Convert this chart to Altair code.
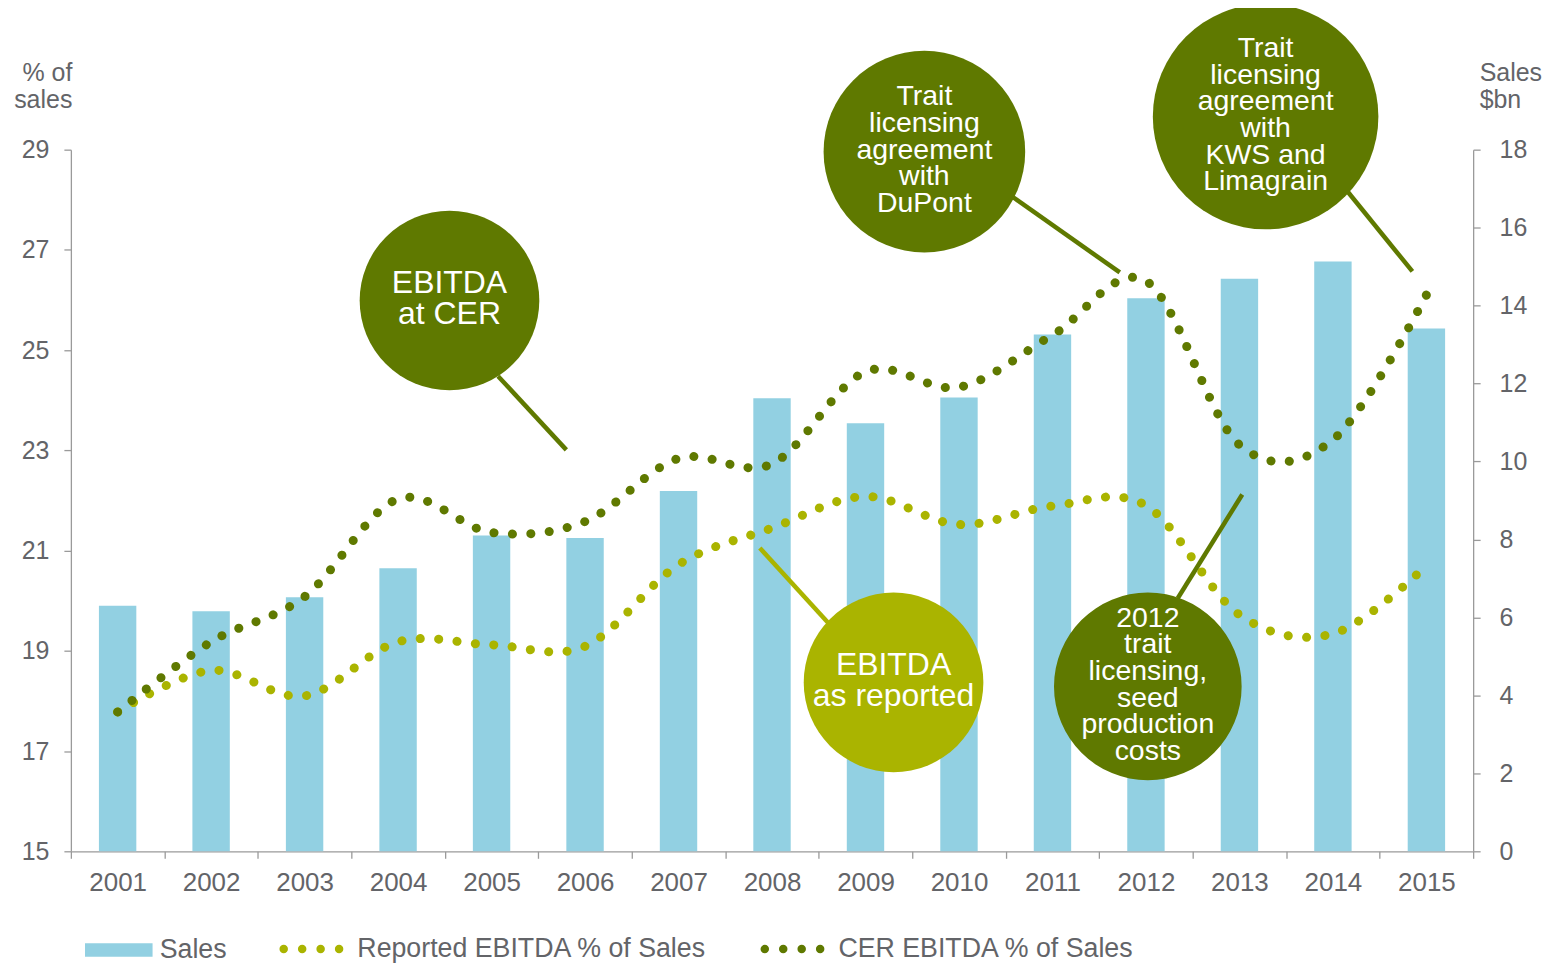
import altair as alt
import pandas as pd

# ---------------- data ----------------
years = list(range(2001, 2016))
sales_bn = [6.30, 6.16, 6.52, 7.26, 8.10, 8.04, 9.24, 11.62, 10.98, 11.64, 13.26, 14.19, 14.69, 15.13, 13.41]
reported_pct = [17.78, 18.61, 18.10, 19.18, 19.12, 19.09, 20.72, 21.45, 22.08, 21.52, 21.89, 21.90, 19.72, 19.34, 20.70]
cer_pct = [17.78, 19.18, 20.08, 22.03, 21.36, 21.58, 22.84, 22.73, 24.57, 24.26, 25.30, 26.38, 23.11, 23.21, 26.10]

left_ticks = [15, 17, 19, 21, 23, 25, 27, 29]
right_ticks = [0, 2, 4, 6, 8, 10, 12, 14, 16, 18]

# annotation bubbles (data coordinates: fractional year, % of sales)
ann_text = ["EBITDA\nat CER",
            "Trait\nlicensing\nagreement\nwith\nDuPont",
            "Trait\nlicensing\nagreement\nwith\nKWS and\nLimagrain",
            "EBITDA\nas reported",
            "2012\ntrait\nlicensing,\nseed\nproduction\ncosts"]
ann_x = [2004.55, 2009.63, 2013.28, 2009.30, 2012.02]
ann_y = [25.99, 28.96, 29.66, 18.37, 18.29]
ann_tone = ["dark", "dark", "dark", "light", "dark"]
ann_radius = [90, 101, 113, 90, 94]
lead_x = [2005.07, 2010.58, 2014.15, 2007.87, 2013.03]
lead_y = [24.48, 28.05, 28.18, 21.05, 22.12]
lead_x2 = [2005.80, 2011.72, 2014.85, 2008.60, 2012.34]
lead_y2 = [23.01, 26.55, 26.57, 19.56, 20.05]

# ---------------- styles ----------------
BLUE = "#92d0e2"
DARK = "#5f7900"
LIGHT = "#aab400"
GREY = "#636468"
AXIS = "#9a9a9a"
FONT = "Liberation Sans"
W, H = 1405, 703
LEG_FS = 26.8

df = pd.DataFrame({"Year": years, "Sales": sales_bn, "Reported": reported_pct, "CER": cer_pct})
ann = pd.DataFrame({
    "id": list(range(len(ann_text))),
    "text": ann_text, "ax": ann_x, "ay": ann_y,
    "fill": [DARK if t == "dark" else LIGHT for t in ann_tone],
    "area": [(2 * r) ** 2 for r in ann_radius],
    "lx": lead_x, "ly": lead_y, "lx2": lead_x2, "ly2": lead_y2,
})

pct_scale = alt.Scale(domain=[15, 29], nice=False, zero=False)
band = alt.Scale(paddingInner=0, paddingOuter=0)

bars = alt.Chart(df).transform_calculate(series="'Sales'").mark_bar(
    width=alt.RelativeBandSize(0.4)
).encode(
    x=alt.X("Year:O", scale=band,
            axis=alt.Axis(title=None, labelAngle=0, tickBand="extent", tickSize=7,
                          labelPadding=11, labelFontSize=26, labelColor=GREY, labelFont=FONT,
                          domainColor=AXIS, tickColor=AXIS, domainWidth=1.3, tickWidth=1.3)),
    y=alt.Y("Sales:Q", scale=alt.Scale(domain=[0, 18], nice=False),
            axis=alt.Axis(orient="right", values=right_ticks, tickSize=7, labelPadding=19,
                          labelFontSize=25, labelColor=GREY, labelFont=FONT, grid=False,
                          domainColor=AXIS, tickColor=AXIS, domainWidth=1.3, tickWidth=1.3,
                          title=["Sales", "$bn"], titleAngle=0, titleAlign="left",
                          titleBaseline="alphabetic", titleX=6, titleY=-69,
                          titleFontSize=25, titleFontWeight="normal", titleColor=GREY,
                          titleFont=FONT, titleLineHeight=27)),
    color=alt.Color("series:N", scale=alt.Scale(domain=["Sales"], range=[BLUE]),
                    legend=alt.Legend(orient="none", legendX=14, legendY=768, title=None,
                                      symbolType="M-1,-0.2H1V0.2H-1Z", symbolSize=4583,
                                      symbolStrokeWidth=0, labelOffset=7, padding=0,
                                      labelLimit=600,
                                      labelFontSize=LEG_FS, labelColor=GREY, labelFont=FONT)),
)

# legend symbol: four round dots
_r = 0.133
_dots = "".join(
    f"M{c - _r:.3f},0A{_r},{_r} 0 1,0 {c + _r:.3f},0A{_r},{_r} 0 1,0 {c - _r:.3f},0Z"
    for c in [-0.867, -0.289, 0.289, 0.867]
)

def dotted(field, label, colour, lx):
    return alt.Chart(df).transform_calculate(series=f"'{label}'").mark_line(
        interpolate="cardinal", strokeWidth=9, strokeDash=[0.1, 18.4], strokeCap="round"
    ).encode(
        x=alt.X("Year:O", scale=band, axis=None),
        y=alt.Y(f"{field}:Q", scale=pct_scale,
                axis=alt.Axis(orient="left", values=left_ticks, tickSize=7, labelPadding=15,
                              labelFontSize=25, labelColor=GREY, labelFont=FONT, grid=False,
                              domainColor=AXIS, tickColor=AXIS, domainWidth=1.3, tickWidth=1.3,
                              title=["% of", "sales"], titleAngle=0, titleAlign="right",
                              titleBaseline="alphabetic", titleX=1, titleY=-69,
                              titleFontSize=25, titleFontWeight="normal", titleColor=GREY,
                              titleFont=FONT, titleLineHeight=27) if field == "Reported" else None),
        color=alt.Color("series:N", scale=alt.Scale(domain=[label], range=[colour]),
                        legend=alt.Legend(orient="none", legendX=lx, legendY=769, title=None,
                                          symbolType=_dots, symbolSize=64 * 64,
                                          symbolFillColor=colour, symbolStrokeColor=colour,
                                          symbolStrokeWidth=0, symbolDash=[1, 0],
                                          labelOffset=14, padding=0, labelLimit=600,
                                          labelFontSize=LEG_FS, labelColor=GREY, labelFont=FONT)),
    )

rep_line = dotted("Reported", "Reported EBITDA % of Sales", LIGHT, 209)
cer_line = dotted("CER", "CER EBITDA % of Sales", DARK, 691)

ax_q = alt.Scale(domain=[2000.5, 2015.5], nice=False, zero=False)

leaders = alt.Chart(ann).mark_rule(strokeWidth=4.5).encode(
    x=alt.X("lx:Q", scale=ax_q, axis=None), x2="lx2:Q",
    y=alt.Y("ly:Q", scale=pct_scale, axis=None), y2="ly2:Q",
    color=alt.Color("fill:N", scale=None),
)

bubbles = alt.Chart(ann).mark_point(filled=True, shape="circle", opacity=1, strokeWidth=0).encode(
    x=alt.X("ax:Q", scale=ax_q, axis=None),
    y=alt.Y("ay:Q", scale=pct_scale, axis=None),
    size=alt.Size("area:Q", scale=None),
    color=alt.Color("fill:N", scale=None),
)

def label_layer(i):
    n = ann_text[i].count("\n") + 1
    big = n == 2
    lh = 31 if big else 26.7
    return alt.Chart(ann).transform_filter(alt.datum.id == i).mark_text(
        color="white", font=FONT, fontSize=32 if big else 28.5,
        lineHeight=lh, baseline="middle", align="center",
        lineBreak="\n", dy=-(n - 1) / 2 * lh - 2,
    ).encode(
        x=alt.X("ax:Q", scale=ax_q, axis=None),
        y=alt.Y("ay:Q", scale=pct_scale, axis=None),
        text="text:N",
    )

chart = alt.layer(
    bars, rep_line, cer_line, leaders, bubbles, *[label_layer(i) for i in range(len(ann_text))]
).resolve_scale(
    x="independent", y="independent", color="independent", size="independent"
).resolve_axis(
    x="independent", y="independent"
).properties(
    width=W, height=H,
    autosize=alt.AutoSizeParams(type="none"),
    padding={"left": 63, "top": 141, "right": 76, "bottom": 120},
).configure_view(stroke=None)

chart.save("out.html", embed_options={"renderer": "svg", "actions": False})
